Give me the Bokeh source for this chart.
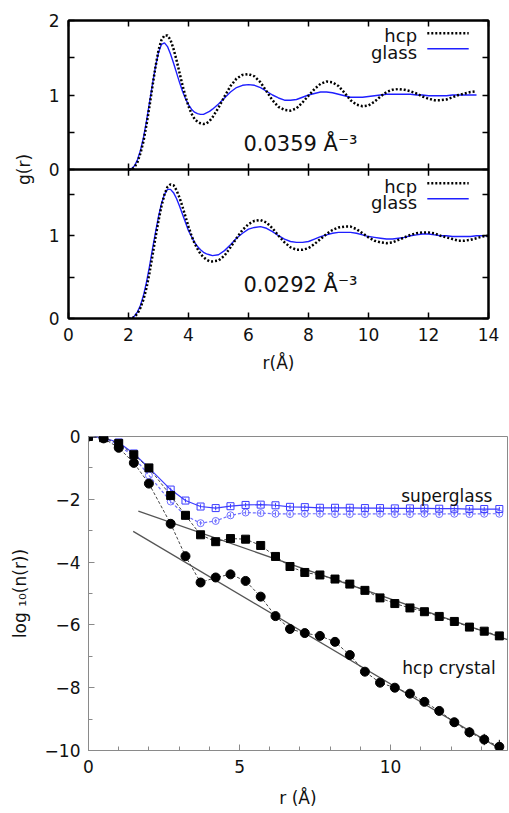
from bokeh.plotting import figure
from bokeh.models import (Range1d, LinearAxis, FixedTicker, Label, Arrow, Span,
                          Whisker, ColumnDataSource, CustomJSTickFormatter)
from bokeh.layouts import column, row
from bokeh.embed import file_html
from bokeh.resources import INLINE

# ---------------- data: g(r) panels ----------------
r_top = [2.0, 2.1, 2.2, 2.3, 2.4, 2.5, 2.6, 2.7, 2.8, 2.9, 3.0, 3.1, 3.2, 3.3, 3.4,
         3.5, 3.6, 3.7, 3.8, 3.9, 4.0, 4.1, 4.2, 4.3, 4.4, 4.5, 4.6, 4.7, 4.8,
         5.0, 5.2, 5.4, 5.6, 5.8, 6.0, 6.2, 6.4, 6.6, 6.8, 7.0, 7.2, 7.4, 7.6, 7.8,
         8.0, 8.2, 8.4, 8.6, 8.8, 9.0, 9.2, 9.4, 9.6, 9.8, 10.0, 10.2, 10.4, 10.6,
         10.8, 11.0, 11.2, 11.4, 11.6, 11.8, 12.0, 12.2, 12.4, 12.6, 12.8, 13.0,
         13.2, 13.4, 13.6]
r_bot = r_top + [13.8, 14.0]

g_hcp_0359 = [0, 0, 0.03, 0.1, 0.22, 0.38, 0.6, 0.85, 1.12,
              1.38, 1.6, 1.74, 1.8, 1.8, 1.74, 1.62, 1.47, 1.3, 1.13,
              0.98, 0.85, 0.75, 0.68, 0.64, 0.62, 0.61, 0.62, 0.65, 0.7,
              0.83, 0.98, 1.12, 1.22, 1.27, 1.28, 1.25, 1.17, 1.05, 0.93,
              0.84, 0.8, 0.79, 0.82, 0.9, 0.99, 1.08, 1.15, 1.18, 1.17,
              1.12, 1.03, 0.93, 0.87, 0.85, 0.86, 0.91, 0.98, 1.04, 1.07,
              1.08, 1.07, 1.05, 1.02, 0.98, 0.95, 0.93, 0.93, 0.94, 0.97,
              1.0, 1.02, 1.04, 1.05]
g_glass_0359 = [0, 0.01, 0.05, 0.13, 0.26, 0.43, 0.65, 0.9, 1.15,
                1.38, 1.57, 1.68, 1.70, 1.65, 1.55, 1.43, 1.30, 1.17, 1.05,
                0.95, 0.87, 0.81, 0.77, 0.75, 0.74, 0.74, 0.76, 0.78, 0.81,
                0.88, 0.96, 1.04, 1.10, 1.13, 1.14, 1.13, 1.10, 1.05, 1.0,
                0.96, 0.93, 0.93, 0.94, 0.97, 1.0, 1.02, 1.04, 1.04, 1.03,
                1.01, 0.99, 0.97, 0.97, 0.97, 0.98, 0.99, 1.0, 1.01, 1.01,
                1.01, 1.01, 1.01, 1.0, 1.0, 0.99, 0.99, 0.99, 0.99, 1.0,
                1.0, 1.0, 1.0, 1.0]
g_hcp_0292 = [0, 0, 0.02, 0.06, 0.13, 0.23, 0.37, 0.55, 0.76,
              0.98, 1.18, 1.36, 1.50, 1.59, 1.62, 1.61, 1.55, 1.46, 1.35,
              1.23, 1.11, 1.0, 0.91, 0.84, 0.78, 0.74, 0.71, 0.69, 0.69,
              0.70, 0.76, 0.86, 0.97, 1.07, 1.14, 1.18, 1.19, 1.16, 1.09,
              1.0, 0.92, 0.86, 0.83, 0.83, 0.85, 0.90, 0.96, 1.02, 1.07,
              1.10, 1.11, 1.11, 1.08, 1.03, 0.98, 0.94, 0.92, 0.91, 0.92,
              0.95, 0.98, 1.01, 1.03, 1.04, 1.04, 1.03, 1.0, 0.98, 0.96,
              0.94, 0.94, 0.95, 0.97, 0.99, 1.0]
g_glass_0292 = [0, 0, 0.03, 0.08, 0.16, 0.28, 0.44, 0.63, 0.84,
                1.04, 1.23, 1.39, 1.50, 1.56, 1.56, 1.52, 1.45, 1.36, 1.26,
                1.16, 1.06, 0.99, 0.92, 0.87, 0.83, 0.80, 0.78, 0.77, 0.76,
                0.77, 0.82, 0.89, 0.97, 1.03, 1.08, 1.10, 1.11, 1.09, 1.05,
                1.0, 0.96, 0.93, 0.92, 0.92, 0.93, 0.96, 0.99, 1.01, 1.03,
                1.04, 1.04, 1.04, 1.03, 1.01, 0.99, 0.98, 0.97, 0.96, 0.96,
                0.97, 0.98, 1.0, 1.01, 1.02, 1.02, 1.01, 1.0, 1.0, 0.99,
                0.99, 0.99, 0.99, 1.0, 1.0, 1.0]

top_x_ticks = [0, 2, 4, 6, 8, 10, 12, 14]
upper_y_ticks = [0, 0.5, 1, 1.5, 2]
upper_y_labels = ["0", "", "1", "", "2"]
lower_y_ticks = [0, 0.5, 1, 1.5]
lower_y_labels = ["0", "", "1", ""]
density_labels = ["0.0359 Å⁻³", "0.0292 Å⁻³"]
legend_labels = ["hcp", "glass"]

# ---------------- data: log10 n(r) panel ----------------
r_n = [0, 0.5, 1.0, 1.5, 2.0, 2.72, 3.21, 3.71, 4.21, 4.70, 5.20, 5.70, 6.19, 6.67,
       7.16, 7.66, 8.16, 8.65, 9.15, 9.65, 10.14, 10.64, 11.12, 11.61, 12.11,
       12.61, 13.10, 13.60]
n_glass_sq = [0, -0.04, -0.19, -0.54, -1.00, -1.69, -2.04, -2.23, -2.28, -2.22,
              -2.18, -2.17, -2.19, -2.24, -2.25, -2.27, -2.27, -2.27, -2.28, -2.28,
              -2.29, -2.29, -2.29, -2.30, -2.30, -2.31, -2.31, -2.31]
n_glass_ci = [0, -0.05, -0.26, -0.65, -1.24, -2.07, -2.52, -2.76, -2.69, -2.51,
              -2.42, -2.44, -2.46, -2.47, -2.46, -2.46, -2.47, -2.47, -2.47, -2.46,
              -2.47, -2.47, -2.46, -2.47, -2.46, -2.47, -2.46, -2.46]
n_hcp_sq = [0, -0.04, -0.22, -0.58, -1.00, -1.88, -2.51, -3.13, -3.35, -3.25,
            -3.27, -3.47, -3.82, -4.14, -4.33, -4.41, -4.54, -4.70, -4.90, -5.14,
            -5.32, -5.46, -5.58, -5.73, -5.89, -6.07, -6.20, -6.35]
n_hcp_ci = [0, -0.06, -0.36, -0.84, -1.50, -2.78, -3.81, -4.65, -4.49, -4.39,
            -4.60, -5.10, -5.72, -6.13, -6.26, -6.35, -6.54, -6.96, -7.49, -7.84,
            -8.00, -8.19, -8.45, -8.74, -9.10, -9.42, -9.65, -9.88]
err_glass = [0, 0, 0, 0, 0, 0.06, 0.06, 0.07, 0.07, 0.07, 0.07, 0.07, 0.07, 0.07,
             0.07, 0.07, 0.07, 0.07, 0.07, 0.07, 0.07, 0.07, 0.07, 0.07, 0.07,
             0.07, 0.07, 0.07]
err_hcp_ci = [0, 0, 0, 0, 0, 0, 0, 0, 0, 0, 0, 0, 0, 0, 0, 0, 0, 0, 0.08, 0.08,
              0.1, 0.1, 0.12, 0.13, 0.14, 0.16, 0.18, 0.22]
fit_r = [1.65, 13.87]
fit_sq = [-2.38, -6.47]
fit_r2 = [1.48, 13.87]
fit_ci = [-3.02, -10.09]
bot_x_ticks = [0, 5, 10]
bot_x_minor = [1, 2, 3, 4, 6, 7, 8, 9, 11, 12, 13]
bot_y_ticks = [0, -2, -4, -6, -8, -10]
bot_y_minor = [-1, -3, -5, -7, -9]

FONT = "DejaVu Sans"
TXT = "#111111"
BLUE_TOP = "#1f1fff"


def style_axis(ax, labels=True, color="black", lw=2, tick_len=6, size="17px"):
    ax.axis_line_color = color
    ax.axis_line_width = lw
    ax.major_tick_line_color = color
    ax.minor_tick_line_color = color
    ax.major_tick_line_width = 1.5 if lw > 1 else 1
    ax.minor_tick_line_width = 1.5 if lw > 1 else 1
    ax.major_tick_in = tick_len
    ax.major_tick_out = 0
    ax.minor_tick_in = tick_len
    ax.minor_tick_out = 0
    ax.major_label_text_font = FONT
    ax.major_label_text_color = TXT
    ax.axis_label_text_font = FONT
    ax.axis_label_text_color = TXT
    ax.axis_label_text_font_style = "normal"
    ax.axis_label_text_font_size = size
    ax.major_label_text_font_size = size
    ax.major_label_standoff = 9
    if not labels:
        # mirrored ticks only: labels are not drawn and take no room
        ax.major_label_text_color = None
        ax.major_label_text_font_size = "1px"
        ax.major_label_standoff = 0


# ---------------- top panel: two stacked g(r) subplots ----------------
# default y range = upper subplot (0.0359), extra range "low" = lower subplot
UP_START, UP_END = -2.0, 2.0
LOW_END = 3.6
p1 = figure(width=509, height=376, x_range=Range1d(0, 14),
            y_range=Range1d(UP_START, UP_END),
            extra_y_ranges={"low": Range1d(0, LOW_END)},
            output_backend="svg", toolbar_location=None,
            min_border_left=68, min_border_right=21, min_border_top=20,
            min_border_bottom=58, x_axis_location=None, y_axis_location=None)
p1.grid.grid_line_color = None
p1.outline_line_color = "black"
p1.outline_line_width = 2


def low_to_up(g):
    return UP_START + g * (UP_END - UP_START) / LOW_END


y_pos = [low_to_up(t) for t in lower_y_ticks] + upper_y_ticks
y_lab = lower_y_labels + upper_y_labels
yt = FixedTicker(ticks=y_pos)
yfmt = CustomJSTickFormatter(args=dict(pos=y_pos, labs=y_lab), code="""
    for (let i = 0; i < pos.length; i++) {
        if (Math.abs(tick - pos[i]) < 1e-6) { return labs[i]; }
    }
    return '';
""")
xt = FixedTicker(ticks=top_x_ticks)

xb = LinearAxis(ticker=xt, axis_label="r(Å)")
style_axis(xb)
xb.axis_label_standoff = 9
p1.add_layout(xb, "below")
xa = LinearAxis(ticker=xt)
style_axis(xa, labels=False)
p1.add_layout(xa, "above")
yl = LinearAxis(ticker=yt, formatter=yfmt, axis_label="g(r)")
style_axis(yl)
yl.axis_label_standoff = 12
p1.add_layout(yl, "left")
yr = LinearAxis(ticker=yt, formatter=yfmt)
style_axis(yr, labels=False)
p1.add_layout(yr, "right")

# divider between the two subplots, with its inward ticks on both sides
p1.add_layout(Span(location=0, dimension="width", line_color="black",
                   line_width=2.5))
inner_ticks = top_x_ticks[1:-1]
p1.segment(x0=inner_ticks, x1=inner_ticks, y0=[-0.085] * len(inner_ticks),
           y1=[0.08] * len(inner_ticks), line_color="black", line_width=1.5)

# upper subplot
p1.line(r_top, g_glass_0359, line_color=BLUE_TOP, line_width=1.4)
p1.line(r_top, g_hcp_0359, line_color="black", line_width=2.5, line_dash="2 2")
# lower subplot
p1.line(r_bot, g_glass_0292, line_color=BLUE_TOP, line_width=1.4,
        y_range_name="low")
p1.line(r_bot, g_hcp_0292, line_color="black", line_width=2.5, line_dash="2 2",
        y_range_name="low")


def add_legend(rng, ys, dens, ann_y):
    kw = dict(text_font=FONT, text_color=TXT, text_baseline="alphabetic",
              y_range_name=rng)
    p1.add_layout(Label(x=11.62, y=ys[0], text=legend_labels[0],
                        text_align="right", text_font_size="18px", **kw))
    p1.add_layout(Label(x=11.62, y=ys[1], text=legend_labels[1],
                        text_align="right", text_font_size="18px", **kw))
    p1.add_layout(Arrow(end=None, x_start=11.96, x_end=13.34, y_start=ys[2],
                        y_end=ys[2], line_color="black", line_width=2.5,
                        line_dash="2 2", y_range_name=rng))
    p1.add_layout(Arrow(end=None, x_start=11.96, x_end=13.34, y_start=ys[3],
                        y_end=ys[3], line_color=BLUE_TOP, line_width=1.5,
                        y_range_name=rng))
    p1.add_layout(Label(x=5.83, y=ann_y, text=dens, text_font_size="21px", **kw))


add_legend("default", [1.80, 1.575, 1.83, 1.62], density_labels[0], 0.345)
add_legend("low", [1.598, 1.398, 1.634, 1.446], density_labels[1], 0.40)

# ---------------- bottom panel ----------------
GREY = "#8a8a8a"
p3 = figure(width=509, height=437, x_range=Range1d(0, 13.87),
            y_range=Range1d(-10, 0), output_backend="svg",
            toolbar_location=None, min_border_left=88, min_border_right=2,
            min_border_top=60, min_border_bottom=63,
            x_axis_location=None, y_axis_location=None)
p3.grid.grid_line_color = None
p3.outline_line_color = GREY
p3.outline_line_width = 1
bx = LinearAxis(ticker=FixedTicker(ticks=bot_x_ticks, minor_ticks=bot_x_minor))
style_axis(bx, color=GREY, lw=1, tick_len=6)
bx.minor_tick_in = 4
bx.axis_label = "r (Å)"
bx.axis_label_standoff = 12
p3.add_layout(bx, "below")
by = LinearAxis(ticker=FixedTicker(ticks=bot_y_ticks, minor_ticks=bot_y_minor))
style_axis(by, color=GREY, lw=1, tick_len=6)
by.minor_tick_in = 4
by.major_label_standoff = 8
by.axis_label = "log ₁₀(n(r))"
by.axis_label_standoff = 12
p3.add_layout(by, "left")

p3.line(fit_r, fit_sq, line_color="#555555", line_width=1.3)
p3.line(fit_r2, fit_ci, line_color="#555555", line_width=1.3)

src = ColumnDataSource(dict(
    r=r_n, gs=n_glass_sq, gc=n_glass_ci, hs=n_hcp_sq, hc=n_hcp_ci,
    gs_lo=[v - e for v, e in zip(n_glass_sq, err_glass)],
    gs_hi=[v + e for v, e in zip(n_glass_sq, err_glass)],
    gc_lo=[v - e for v, e in zip(n_glass_ci, err_glass)],
    gc_hi=[v + e for v, e in zip(n_glass_ci, err_glass)],
    hc_lo=[v - e for v, e in zip(n_hcp_ci, err_hcp_ci)],
    hc_hi=[v + e for v, e in zip(n_hcp_ci, err_hcp_ci)],
))
BLUE = "#3b3bff"
LBLUE = "#6f6fff"
p3.line("r", "gc", source=src, line_color=LBLUE, line_width=1.2, line_dash="3 2")
p3.line("r", "gs", source=src, line_color=BLUE, line_width=1.2)
for lo, hi, col in (("gc_lo", "gc_hi", LBLUE), ("gs_lo", "gs_hi", BLUE),
                    ("hc_lo", "hc_hi", "black")):
    p3.add_layout(Whisker(base="r", lower=lo, upper=hi, source=src,
                          line_color=col, line_width=1,
                          upper_head=None, lower_head=None))
p3.scatter("r", "gc", source=src, marker="circle", size=7, fill_color=None,
           line_color=LBLUE, line_width=1)
p3.scatter("r", "gs", source=src, marker="square", size=7, fill_color=None,
           line_color=BLUE, line_width=1)
p3.line("r", "hs", source=src, line_color="#444444", line_width=1, line_dash="3 2")
p3.line("r", "hc", source=src, line_color="#444444", line_width=1, line_dash="3 2")
p3.scatter("r", "hs", source=src, marker="square", size=8, fill_color="black",
           line_color="black")
p3.scatter("r", "hc", source=src, marker="circle", size=9, fill_color="black",
           line_color="black")
p3.add_layout(Label(x=13.37, y=-1.88, text="superglass", text_align="right",
                    text_baseline="alphabetic", text_font=FONT, text_color=TXT,
                    text_font_size="17px"))
p3.add_layout(Label(x=13.48, y=-7.36, text="hcp crystal", text_align="right",
                    text_baseline="alphabetic", text_font=FONT, text_color=TXT,
                    text_font_size="17px"))

# rows keep each panel's frame independent (no cross-panel frame alignment)
layout = column(row(p1), row(p3))
open("out.html", "w").write(file_html(layout, INLINE))
